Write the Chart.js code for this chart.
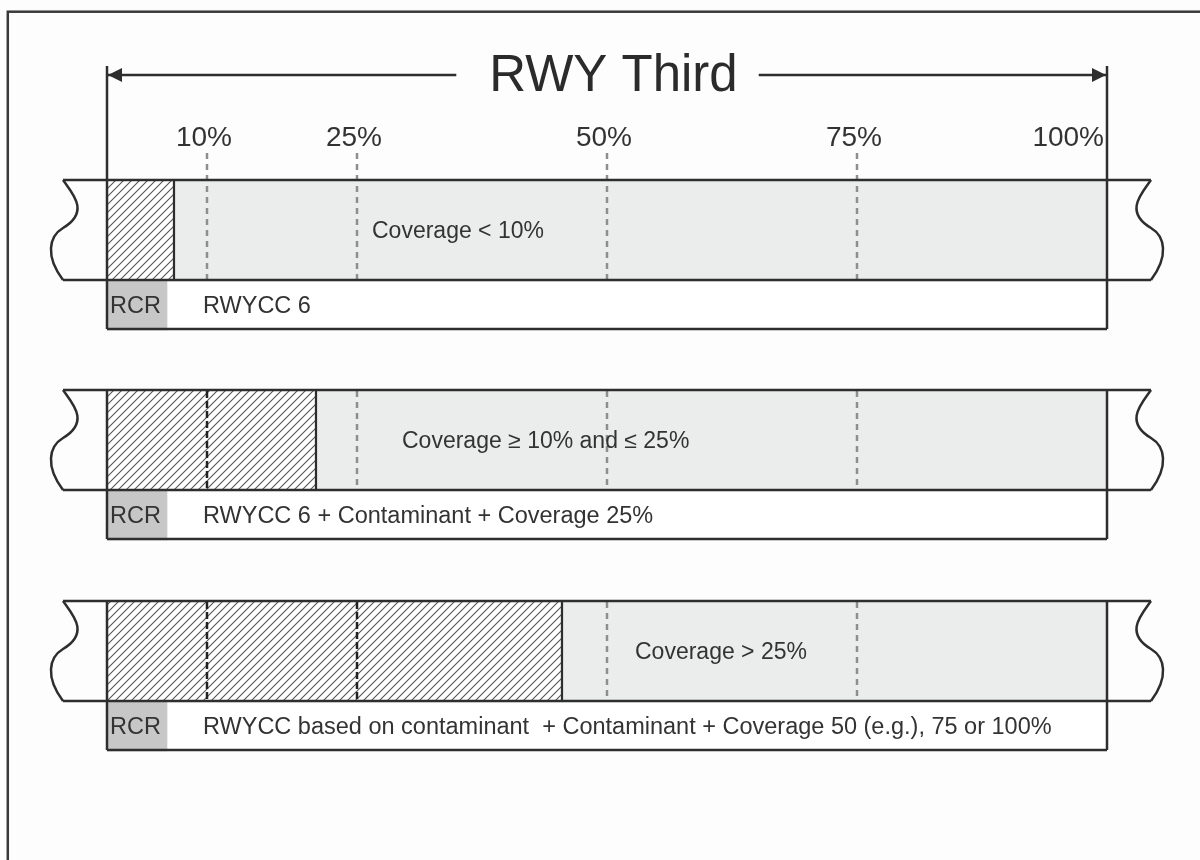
<!DOCTYPE html>
<html>
<head>
<meta charset="utf-8">
<title>RWY Third</title>
<script src="https://cdn.jsdelivr.net/npm/chart.js@4.4.1/dist/chart.umd.min.js"></script>
<style>
    html, body { margin: 0; padding: 0; background: #fdfdfd; }
    #wrap { width: 1200px; height: 860px; position: relative; }
</style>
</head>
<body>
<div id="wrap"><canvas id="rwyChart"></canvas></div>
<script>
// Runway third coverage diagram
const titleText = 'RWY Third';
const markValues = [10, 25, 50, 75, 100];
const markLabels = ['10%', '25%', '50%', '75%', '100%'];
const coverageLabels = ['Coverage < 10%', 'Coverage \u2265 10% and \u2264 25%', 'Coverage > 25%'];
const hatchEnd = [6.8, 21, 45.6];      // contaminated part of the third (%)
const rcrBoxEnd = [6, 6, 6];
const rcrLabels = ['RCR', 'RCR', 'RCR'];
const reportTexts = [
    'RWYCC 6',
    'RWYCC 6 + Contaminant + Coverage 25%',
    'RWYCC based on contaminant  + Contaminant + Coverage 50 (e.g.), 75 or 100%'
];

// layout
const rowTop = [180, 390, 601];
const BAND_H = 101;
const RCR_H = 49;
const INK = '#2e2e2e';
const FONT = '"Liberation Sans", Arial, Helvetica, sans-serif';

function makeHatch() {
    const c = document.createElement('canvas');
    c.width = 8; c.height = 8;
    const g = c.getContext('2d');
    g.fillStyle = '#ffffff';
    g.fillRect(0, 0, 8, 8);
    g.strokeStyle = '#555';
    g.lineWidth = 1.1;
    g.beginPath();
    g.moveTo(0, 8); g.lineTo(8, 0);
    g.moveTo(-1, 1); g.lineTo(1, -1);
    g.moveTo(7, 9); g.lineTo(9, 7);
    g.stroke();
    return g.createPattern(c, 'repeat');
}

// dashed guide lines at each mark, darker where they cross the hatch
const dashSets = [];
rowTop.forEach((top, r) => {
    markValues.slice(0, 4).forEach(m => {
        const inHatch = m < hatchEnd[r];
        dashSets.push({
            type: 'line',
            indexAxis: 'x',
            data: [{ x: m, y: r === 0 ? 153 : top + 1 }, { x: m, y: top + BAND_H - 1 }],
            borderColor: inHatch ? '#222' : '#8e8e8e',
            borderDash: inHatch ? [7, 3] : [6, 5],
            borderWidth: 2.5,
            pointRadius: 0,
            fill: false,
            xAxisID: 'x',
            yAxisID: 'y',
            order: 1
        });
    });
});

function wave(ctx, xEdge, top, dir) {
    // S shaped break line, dir +1 on the left side, -1 on the right
    const p = (dx, dy) => [xEdge + dir * dx, top + dy];
    ctx.beginPath();
    ctx.moveTo(...p(-44, 0));
    ctx.bezierCurveTo(...p(-34, 14), ...p(-17, 32), ...p(-44, 48));
    ctx.bezierCurveTo(...p(-58, 56.3), ...p(-62, 76), ...p(-44, BAND_H - 1));
    ctx.stroke();
}

const diagramPlugin = {
    id: 'diagram',
    beforeDraw(chart) {
        const ctx = chart.ctx;
        ctx.save();
        ctx.fillStyle = '#fdfdfd';
        ctx.fillRect(0, 0, chart.width, chart.height);
        ctx.restore();
    },
    afterDatasetsDraw(chart) {
        const ctx = chart.ctx;
        const xs = chart.scales.x;
        const ys = chart.scales.y;
        const x0 = xs.getPixelForValue(0);
        const x100 = xs.getPixelForValue(100);
        ctx.save();

        // outer frame
        ctx.strokeStyle = '#3a3a3a';
        ctx.lineWidth = 2.5;
        ctx.strokeRect(7.8, 11.7, 1400, 1000);

        // title and arrow
        ctx.fillStyle = '#2b2b2b';
        ctx.font = '51px ' + FONT;
        ctx.textAlign = 'center';
        ctx.textBaseline = 'alphabetic';
        const tcx = xs.getPixelForValue(50.65);
        const tw = ctx.measureText(titleText).width;
        ctx.fillText(titleText, tcx, ys.getPixelForValue(91));

        const ay = ys.getPixelForValue(75);
        ctx.strokeStyle = INK;
        ctx.lineWidth = 2.5;
        ctx.beginPath();
        ctx.moveTo(x0, ay); ctx.lineTo(tcx - tw / 2 - 33, ay);
        ctx.moveTo(tcx + tw / 2 + 21, ay); ctx.lineTo(x100, ay);
        ctx.stroke();
        ctx.fillStyle = INK;
        ctx.beginPath();
        ctx.moveTo(x0 + 1, ay); ctx.lineTo(x0 + 15, ay - 7); ctx.lineTo(x0 + 15, ay + 7); ctx.closePath();
        ctx.fill();
        ctx.beginPath();
        ctx.moveTo(x100 - 1, ay); ctx.lineTo(x100 - 15, ay - 7); ctx.lineTo(x100 - 15, ay + 7); ctx.closePath();
        ctx.fill();

        // percent marks
        ctx.fillStyle = '#333';
        ctx.font = '28px ' + FONT;
        markValues.forEach((m, i) => {
            const px = xs.getPixelForValue(m);
            if (m === 100) {
                ctx.textAlign = 'right';
                ctx.fillText(markLabels[i], px - 3, ys.getPixelForValue(146));
            } else {
                ctx.textAlign = 'center';
                ctx.fillText(markLabels[i], px - 3, ys.getPixelForValue(146));
            }
        });

        // rows: outlines, break lines, texts
        ctx.strokeStyle = INK;
        ctx.lineWidth = 2.5;
        ctx.lineJoin = 'round';
        rowTop.forEach((top, r) => {
            const bTop = ys.getPixelForValue(top);
            const bBot = ys.getPixelForValue(top + BAND_H - 1);
            const rBot = ys.getPixelForValue(top + BAND_H + RCR_H - 1);
            const vTop = r === 0 ? ys.getPixelForValue(66) : bTop;
            ctx.beginPath();
            ctx.moveTo(x0 - 44, bTop); ctx.lineTo(x100 + 44, bTop);
            ctx.moveTo(x0 - 44, bBot); ctx.lineTo(x100 + 44, bBot);
            ctx.moveTo(x0, rBot); ctx.lineTo(x100, rBot);
            ctx.moveTo(x0, vTop); ctx.lineTo(x0, rBot);
            ctx.moveTo(x100, vTop); ctx.lineTo(x100, rBot);
            ctx.stroke();
            wave(ctx, x0, bTop, 1);
            wave(ctx, x100, bTop, -1);

            ctx.fillStyle = '#333';
            ctx.textAlign = 'left';
            ctx.font = '23px ' + FONT;
            const coverAt = [26.5, 29.5, 52.8][r];
            ctx.fillText(coverageLabels[r], xs.getPixelForValue(coverAt), bTop + 57.5);
            ctx.font = '23.5px ' + FONT;
            ctx.fillText(rcrLabels[r], x0 + 3, bBot + 33);
            ctx.fillText(reportTexts[r], x0 + 96, bBot + 33);
        });

        ctx.restore();
    }
};

const hatch = makeHatch();

new Chart(document.getElementById('rwyChart'), {
    type: 'bar',
    data: {
        datasets: [
            {
                label: 'Runway third',
                data: rowTop.map(t => ({ y: t + BAND_H / 2, x: [0, 100] })),
                backgroundColor: '#ebecec',
                borderWidth: 0,
                grouped: false,
                maxBarThickness: BAND_H,
                barPercentage: 1,
                categoryPercentage: 1,
                yAxisID: 'y',
                order: 6
            },
            {
                label: 'Contaminant',
                data: rowTop.map((t, i) => ({ y: t + BAND_H / 2, x: [0, hatchEnd[i]] })),
                backgroundColor: hatch,
                borderColor: INK,
                borderWidth: { right: 2.5, left: 0, top: 0, bottom: 0 },
                borderSkipped: false,
                grouped: false,
                maxBarThickness: BAND_H,
                barPercentage: 1,
                categoryPercentage: 1,
                yAxisID: 'y',
                order: 5
            },
            {
                label: 'Report',
                data: rowTop.map(t => ({ y: t + BAND_H + RCR_H / 2, x: [0, 100] })),
                backgroundColor: '#ffffff',
                borderWidth: 0,
                grouped: false,
                maxBarThickness: RCR_H,
                barPercentage: 1,
                categoryPercentage: 1,
                yAxisID: 'y2',
                order: 6
            },
            {
                label: 'RCR',
                data: rowTop.map((t, i) => ({ y: t + BAND_H + RCR_H / 2, x: [0, rcrBoxEnd[i]] })),
                backgroundColor: '#c7c7c7',
                borderWidth: 0,
                grouped: false,
                maxBarThickness: RCR_H,
                barPercentage: 1,
                categoryPercentage: 1,
                yAxisID: 'y2',
                order: 5
            },
            ...dashSets
        ]
    },
    options: {
        indexAxis: 'y',
        responsive: true,
        maintainAspectRatio: false,
        animation: false,
        layout: { padding: 0 },
        scales: {
            x: { type: 'linear', min: -10.7, max: 109.3, display: false, offset: false },
            y: { type: 'linear', axis: 'y', min: 0, max: 860, reverse: true, display: false, offset: false, ticks: { stepSize: 430 } },
            y2: { type: 'linear', axis: 'y', min: 0, max: 860, reverse: true, display: false, offset: false, ticks: { stepSize: 430 } }
        },
        plugins: {
            legend: { display: false },
            tooltip: { enabled: false }
        }
    },
    plugins: [diagramPlugin]
});
</script>
</body>
</html>
